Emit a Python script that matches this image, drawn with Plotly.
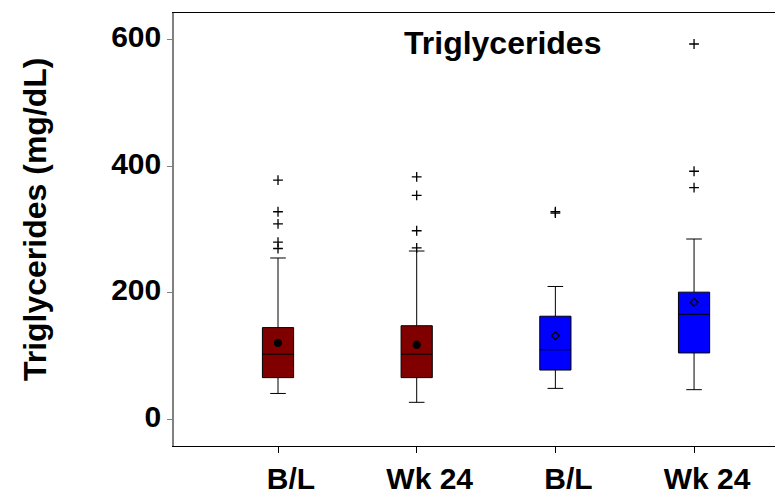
import plotly.graph_objects as go

# ---- data ----
categories = ["B/L", "Wk 24", "B/L", "Wk 24"]
positions = [0, 1, 2, 3]
q1 = [66, 66, 78, 105]
median = [103, 103, 110, 166]
q3 = [145, 148, 163, 201]
lower_whisker = [41, 27, 49, 47]
upper_whisker = [255, 266, 210, 285]
means = [121, 118, 132, 185]
outliers = [
    [378, 328, 309, 280, 270],
    [383, 354, 298, 271],
    [326, 328],
    [593, 392, 366],
]
box_colors = ["#800000", "#800000", "#0000FF", "#0000FF"]
mean_symbols = ["circle", "circle", "diamond-open", "diamond-open"]
y_ticks = [0, 200, 400, 600]

FONT = "Liberation Sans"

fig = go.Figure()

# boxes, one trace per colour group
for color in ["#800000", "#0000FF"]:
    idx = [i for i, c in enumerate(box_colors) if c == color]
    fig.add_trace(go.Box(
        x=[positions[i] for i in idx],
        q1=[q1[i] for i in idx],
        median=[median[i] for i in idx],
        q3=[q3[i] for i in idx],
        lowerfence=[lower_whisker[i] for i in idx],
        upperfence=[upper_whisker[i] for i in idx],
        boxpoints=False,
        fillcolor=color,
        line=dict(color="black", width=1),
        width=0.225,
        whiskerwidth=0.5,
        showlegend=False,
        hoverinfo="skip",
    ))

# outliers
ox, oy = [], []
for i, vals in enumerate(outliers):
    for v in vals:
        ox.append(positions[i])
        oy.append(v)
fig.add_trace(go.Scatter(
    x=ox, y=oy, mode="markers",
    marker=dict(symbol="cross-thin", size=7, color="black",
                line=dict(color="black", width=1.3)),
    showlegend=False, hoverinfo="skip",
))

# means
for sym in ["circle", "diamond-open"]:
    idx = [i for i, s in enumerate(mean_symbols) if s == sym]
    fig.add_trace(go.Scatter(
        x=[positions[i] for i in idx], y=[means[i] for i in idx],
        mode="markers",
        marker=dict(symbol=sym, size=7 if sym == "circle" else 6, color="black",
                    line=dict(color="black", width=1.3)),
        showlegend=False, hoverinfo="skip",
    ))

# plot area runs past the right edge of the 775px window, as in the reference
fig.update_layout(
    width=800, height=495,
    margin=dict(l=174, r=0, t=13, b=49, pad=0, autoexpand=False),
    paper_bgcolor="white", plot_bgcolor="white",
    font=dict(family=FONT, color="black"),
    xaxis=dict(
        range=[-0.75, 3.764], automargin=False,
        tickmode="array", tickvals=positions, ticktext=categories,
        showgrid=False, zeroline=False,
        showline=True, linecolor="black", linewidth=1, mirror=True,
        ticks="outside", ticklen=6, tickcolor="black", tickwidth=1,
        tickfont=dict(family=FONT, size=30, weight="bold", color="black"),
        ticklabelshift=13,
    ),
    yaxis=dict(
        range=[-42, 642], automargin=False,
        tickmode="array", tickvals=y_ticks, ticktext=[str(t) for t in y_ticks],
        showgrid=False, zeroline=False,
        showline=True, linecolor="#808080", linewidth=1.5,
        ticks="outside", ticklen=5, tickcolor="#808080", tickwidth=1,
        tickfont=dict(family=FONT, size=30, weight="bold", color="black"),
        ticklabelshift=-3,
    ),
    annotations=[
        dict(text="Triglycerides", xref="paper", yref="paper",
             x=(502 - 174) / 626, y=0.93, xanchor="center", yanchor="middle",
             showarrow=False,
             font=dict(family=FONT, size=32, weight="bold", color="black")),
        dict(text="Triglycerides (mg/dL)", xref="paper", yref="paper",
             x=(35 - 174) / 626, y=0.524, xanchor="center", yanchor="middle",
             textangle=-90, showarrow=False,
             font=dict(family=FONT, size=32, weight="bold", color="black")),
    ],
)

fig.write_html("out.html", config={"displayModeBar": False},
               post_script="document.body.style.margin='0px';"
                           "document.body.style.overflow='hidden';"
                           "document.documentElement.style.overflow='hidden';")
